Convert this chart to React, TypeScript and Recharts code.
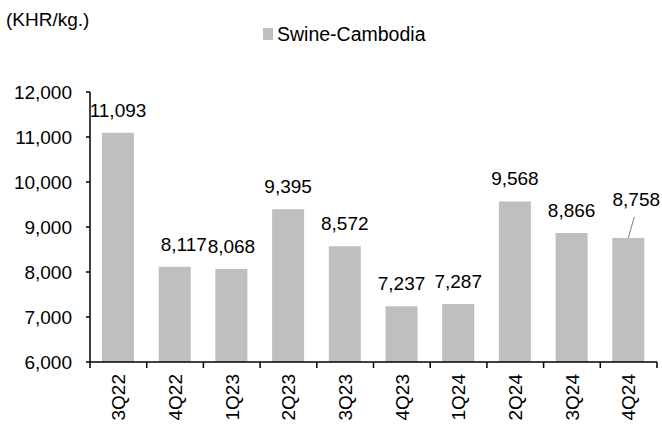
import React from 'react';
import { BarChart, Bar, XAxis, YAxis, Legend, LabelList } from 'recharts';

const categories = ['3Q22', '4Q22', '1Q23', '2Q23', '3Q23', '4Q23', '1Q24', '2Q24', '3Q24', '4Q24'];
const swineValues = [11093, 8117, 8068, 9395, 8572, 7237, 7287, 9568, 8866, 8758];
const yTicks = [6000, 7000, 8000, 9000, 10000, 11000, 12000];

const seriesName = 'Swine-Cambodia';
const unitLabel = '(KHR/kg.)';

const W = 662;
const H = 430;
const LEFT = 90;
const RIGHT = 5;
const BAND = (W - LEFT - RIGHT) / categories.length;
const BAR_COLOR = '#bfbfbf';
const FONT = "'Liberation Sans', Arial, sans-serif";

// the last label sits off the bar with a small leader line, like the source
const CALLOUT_INDEX = categories.length - 1;
// 4Q22 label is nudged right in the source (it overlaps 1Q23's)
const NUDGED_INDEX = 1;

const data = categories.map((q, i) => ({ quarter: q, swine: swineValues[i] }));

const fmt = (v: number) => v.toLocaleString('en-US');

const XTick = (props: any) => {
  const { x, y, payload, index } = props;
  const left = x - BAND / 2;
  return (
    <g>
      <line x1={left} y1={y - 8} x2={left} y2={y - 2} stroke="#000" strokeWidth={1.5} />
      {index === categories.length - 1 && (
        <line x1={left + BAND} y1={y - 8} x2={left + BAND} y2={y - 2} stroke="#000" strokeWidth={1.5} />
      )}
      <text
        x={x}
        y={y + 4}
        transform={`rotate(-90, ${x}, ${y + 4})`}
        textAnchor="end"
        dy="0.36em"
        fontSize={19}
        fill="#000"
      >
        {payload.value}
      </text>
    </g>
  );
};

const ValueLabel = (props: any) => {
  const { x, y, width, value, index } = props;
  const cx = x + width / 2;
  if (index === CALLOUT_INDEX) {
    return (
      <g>
        <line x1={cx} y1={y} x2={cx + 6} y2={y - 21} stroke="#808080" strokeWidth={1} />
        <text x={cx + 8} y={y - 32} textAnchor="middle" fontSize={19} fill="#000">
          {fmt(value)}
        </text>
      </g>
    );
  }
  const dx = index === NUDGED_INDEX ? 9 : 0;
  return (
    <text x={cx + dx} y={y - 16} textAnchor="middle" fontSize={19} fill="#000">
      {fmt(value)}
    </text>
  );
};

const LegendContent = () => (
  <div style={{ display: 'flex', alignItems: 'center', fontSize: 19.5, lineHeight: '22px', color: '#000', whiteSpace: 'nowrap' }}>
    <span style={{ display: 'inline-block', width: 10, height: 12, background: BAR_COLOR, marginRight: 4 }} />
    <span>{seriesName}</span>
  </div>
);

export default function App() {
  return (
    <div style={{ position: 'absolute', left: 0, top: 0, width: W, height: H, background: '#fff', fontFamily: FONT }}>
      <div style={{ position: 'absolute', left: 6, top: 9, fontSize: 19, color: '#000', lineHeight: '22px' }}>
        {unitLabel}
      </div>
      <BarChart width={W} height={H} data={data} margin={{ top: 92, right: RIGHT, left: 0, bottom: 0 }}>
        <XAxis
          dataKey="quarter"
          height={68}
          interval={0}
          axisLine={{ stroke: '#000', strokeWidth: 1.5 }}
          tickLine={false}
          tick={<XTick />}
        />
        <YAxis
          width={LEFT}
          domain={[6000, 12000]}
          ticks={yTicks}
          interval={0}
          tickFormatter={fmt}
          axisLine={{ stroke: '#000', strokeWidth: 1.5 }}
          tickLine={{ stroke: '#000', strokeWidth: 1.5 }}
          tickSize={4}
          tickMargin={14}
          tick={{ fill: '#000', fontSize: 19 }}
          allowDataOverflow
        />
        <Legend
          verticalAlign="middle"
          align="center"
          layout="horizontal"
          content={<LegendContent />}
          wrapperStyle={{ position: 'absolute', left: 263, top: 23, width: 'auto' }}
        />
        <Bar dataKey="swine" name={seriesName} fill={BAR_COLOR} barSize={32} isAnimationActive={false}>
          <LabelList dataKey="swine" content={<ValueLabel />} />
        </Bar>
      </BarChart>
    </div>
  );
}
